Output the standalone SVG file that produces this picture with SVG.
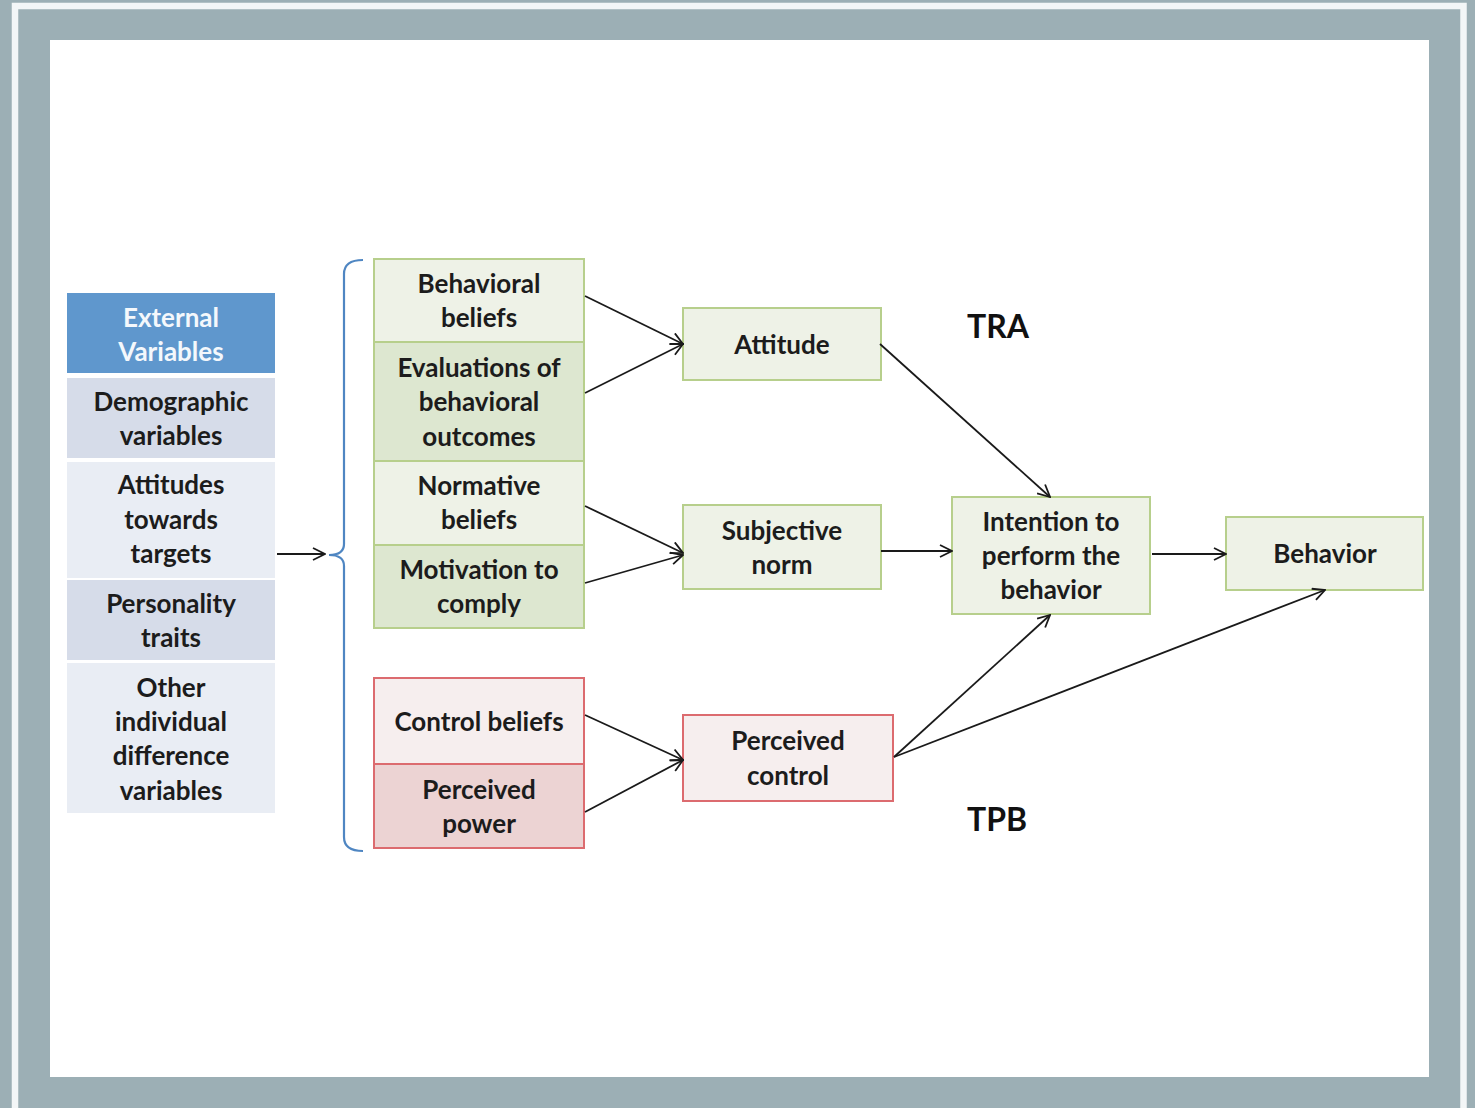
<svg xmlns="http://www.w3.org/2000/svg" width="1475" height="1108" viewBox="0 0 1475 1108">
  <style>
    .t { font-family: Lato, "Liberation Sans", Arial, sans-serif; font-weight: 700; font-size: 26px; fill: #1c1c1c; text-anchor: middle; }
    .tw { fill: #f4f8fc; }
    .lbl { font-family: Lato, "Liberation Sans", Arial, sans-serif; font-weight: 700; font-size: 32px; fill: #111; }
    .hdr { fill: #5f97cd; }
    .ev1 { fill: #d6dce9; }
    .ev2 { fill: #e9edf4; }
    .g1 { fill: #eef2e7; stroke: #b7cf8c; stroke-width: 2; }
    .g2 { fill: #dde7d0; stroke: #b7cf8c; stroke-width: 2; }
    .r1 { fill: #f6eeee; stroke: #dc6b6f; stroke-width: 2; }
    .r2 { fill: #ecd3d3; stroke: #dc6b6f; stroke-width: 2; }
    .c { stroke: #1a1a1a; stroke-width: 1.8; fill: none; marker-end: url(#arr); }
  </style>
  <defs>
    <marker id="arr" viewBox="0 0 14 14" refX="13" refY="7" markerWidth="14" markerHeight="14" markerUnits="userSpaceOnUse" orient="auto">
      <path d="M1,1 L13,7 L1,13" fill="none" stroke="#1a1a1a" stroke-width="1.8"/>
    </marker>
  </defs>

  <!-- frame -->
  <rect x="0" y="0" width="1475" height="1108" fill="#9cafb5"/>
  <rect x="15" y="6" width="1448.5" height="1200" fill="none" stroke="#f3f6f7" stroke-width="6.5"/>
  <rect x="50" y="40" width="1379" height="1037" fill="#ffffff"/>

  <!-- external variables column -->
  <g id="external-variables">
    <rect class="hdr" x="67" y="293" width="208" height="80"/>
    <text class="t tw" x="171" y="327">External</text>
    <text class="t tw" x="171" y="361">Variables</text>
  </g>
  <g id="demographic">
    <rect class="ev1" x="67" y="378" width="208" height="80"/>
    <text class="t" x="171" y="411">Demographic</text>
    <text class="t" x="171" y="445">variables</text>
  </g>
  <g id="attitudes-targets">
    <rect class="ev2" x="67" y="462" width="208" height="116"/>
    <text class="t" x="171" y="494">Attitudes</text>
    <text class="t" x="171" y="529">towards</text>
    <text class="t" x="171" y="563">targets</text>
  </g>
  <g id="personality">
    <rect class="ev1" x="67" y="580" width="208" height="80"/>
    <text class="t" x="171" y="613">Personality</text>
    <text class="t" x="171" y="647">traits</text>
  </g>
  <g id="other-differences">
    <rect class="ev2" x="67" y="663" width="208" height="150"/>
    <text class="t" x="171" y="697">Other</text>
    <text class="t" x="171" y="731">individual</text>
    <text class="t" x="171" y="765">difference</text>
    <text class="t" x="171" y="800">variables</text>
  </g>

  <!-- brace grouping the belief boxes -->
  <g id="brace">
    <path d="M363,260 Q344,260 344,274 L344,544 Q344,555 329,555 Q344,555 344,566 L344,837 Q344,851 363,851" fill="none" stroke="#4f86c2" stroke-width="2.2"/>
  </g>

  <!-- belief boxes -->
  <g id="behavioral-beliefs">
    <rect class="g1" x="374" y="259" width="210" height="83"/>
    <text class="t" x="479" y="293">Behavioral</text>
    <text class="t" x="479" y="327">beliefs</text>
  </g>
  <g id="evaluations">
    <rect class="g2" x="374" y="342" width="210" height="119"/>
    <text class="t" x="479" y="377">Evaluations of</text>
    <text class="t" x="479" y="411">behavioral</text>
    <text class="t" x="479" y="446">outcomes</text>
  </g>
  <g id="normative-beliefs">
    <rect class="g1" x="374" y="461" width="210" height="84"/>
    <text class="t" x="479" y="495">Normative</text>
    <text class="t" x="479" y="529">beliefs</text>
  </g>
  <g id="motivation">
    <rect class="g2" x="374" y="545" width="210" height="83"/>
    <text class="t" x="479" y="579">Motivation to</text>
    <text class="t" x="479" y="613">comply</text>
  </g>
  <g id="control-beliefs">
    <rect class="r1" x="374" y="678" width="210" height="86"/>
    <text class="t" x="479" y="731">Control beliefs</text>
  </g>
  <g id="perceived-power">
    <rect class="r2" x="374" y="764" width="210" height="84"/>
    <text class="t" x="479" y="799">Perceived</text>
    <text class="t" x="479" y="833">power</text>
  </g>

  <!-- constructs -->
  <g id="attitude">
    <rect class="g1" x="683" y="308" width="198" height="72"/>
    <text class="t" x="782" y="354">Attitude</text>
  </g>
  <g id="subjective-norm">
    <rect class="g1" x="683" y="505" width="198" height="84"/>
    <text class="t" x="782" y="540">Subjective</text>
    <text class="t" x="782" y="574">norm</text>
  </g>
  <g id="perceived-control">
    <rect class="r1" x="683" y="715" width="210" height="86"/>
    <text class="t" x="788" y="750">Perceived</text>
    <text class="t" x="788" y="785">control</text>
  </g>
  <g id="intention">
    <rect class="g1" x="952" y="497" width="198" height="117"/>
    <text class="t" x="1051" y="531">Intention to</text>
    <text class="t" x="1051" y="565">perform the</text>
    <text class="t" x="1051" y="599">behavior</text>
  </g>
  <g id="behavior">
    <rect class="g1" x="1226" y="517" width="197" height="73"/>
    <text class="t" x="1325" y="563">Behavior</text>
  </g>

  <!-- model labels -->
  <g id="labels">
    <text class="lbl" x="967" y="338">TRA</text>
    <text class="lbl" x="967" y="831">TPB</text>
  </g>

  <!-- connectors -->
  <g id="connectors">
    <path class="c" d="M277,554 L325,554"/>
    <path class="c" d="M585,296 L683,344"/>
    <path class="c" d="M585,393 L683,344"/>
    <path class="c" d="M585,506 L683,553"/>
    <path class="c" d="M585,583 L683,555"/>
    <path class="c" d="M585,715 L683,760"/>
    <path class="c" d="M585,812 L683,760"/>
    <path class="c" d="M880,344 L1050,497"/>
    <path class="c" d="M881,551 L952,551"/>
    <path class="c" d="M1152,554 L1226,554"/>
    <path class="c" d="M894,757 L1050,615"/>
    <path class="c" d="M894,757 L1325,590"/>
  </g>
</svg>
